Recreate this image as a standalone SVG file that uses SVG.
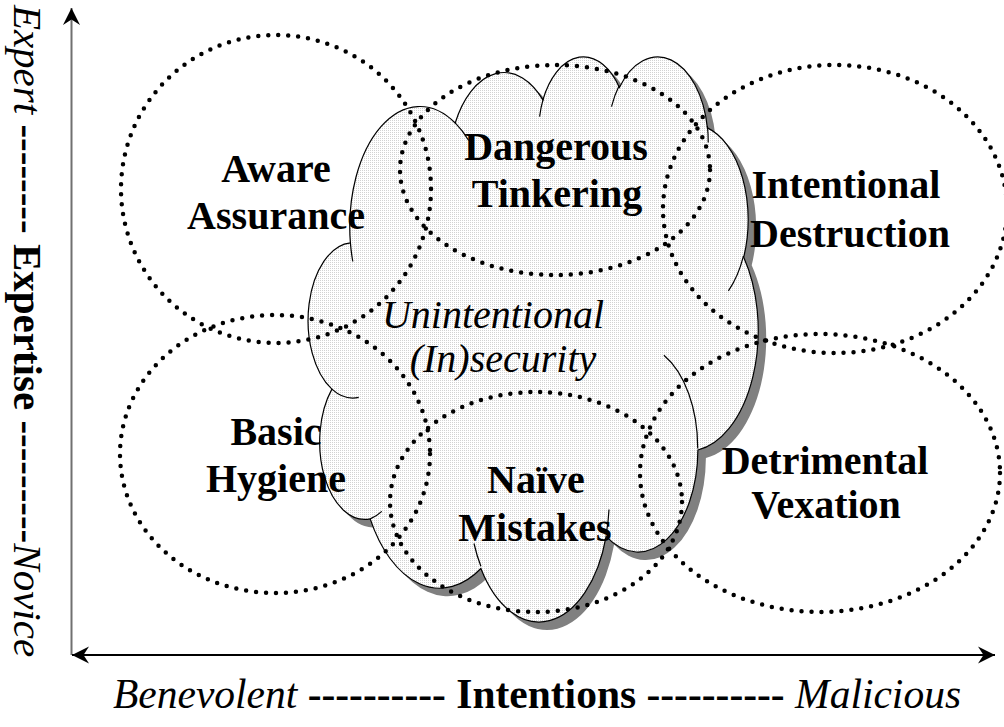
<svg xmlns="http://www.w3.org/2000/svg" xmlns:xlink="http://www.w3.org/1999/xlink" width="1004" height="727" viewBox="0 0 1004 727">
  <style>
    .zone { fill: none; stroke: #000; stroke-width: 4.5; stroke-linecap: round; stroke-dasharray: 0 10; }
    .lbl { font-family: "Liberation Serif", "Times New Roman", serif; font-weight: bold; font-size: 40px; text-anchor: middle; fill: #000; }
    .core { font-family: "Liberation Serif", "Times New Roman", serif; font-style: italic; font-size: 40px; text-anchor: middle; fill: #000; }
    .axis { font-family: "Liberation Serif", "Times New Roman", serif; fill: #000; text-anchor: middle; }
    .it { font-style: italic; }
    .bd { font-weight: bold; }
    .outline { stroke: #000; stroke-width: 1.2; }
  </style>
  <defs>
    <!-- fine dot screen used as the cloud fill -->
    <pattern id="screen" width="2" height="2" patternUnits="userSpaceOnUse">
      <rect width="2" height="2" fill="#fff"/>
      <rect width="1" height="1" fill="#d2d2d2"/>
    </pattern>
    <marker id="head" viewBox="0 0 18 18" refX="17" refY="9" markerWidth="18" markerHeight="18" markerUnits="userSpaceOnUse" orient="auto-start-reverse">
      <path d="M0,0.5 L17,9 L0,17.5 L5.5,9 Z" fill="#000"/>
    </marker>
    <!-- eleven-lobed cloud outline -->
    <path id="cloudShape" d="M350.4,242.9 A70.03,120.19 0 0 1 455.2,123.0 A55.31,95.04 0 0 1 542.9,99.9 A45.27,77.75 0 0 1 619.4,87.4 A50.37,86.25 0 0 1 707.4,127.9 A55.31,95.12 0 0 1 743.7,257.2 A70.26,120.59 0 0 1 697.9,450.0 A59.99,102.89 0 0 1 606.1,536.4 A70.02,120.52 0 0 1 480.9,568.5 A80.06,137.89 0 0 1 370.2,518.9 A45.21,77.4 0 0 1 331.9,389.1 A45.06,77.75 0 0 1 350.4,242.9 Z"/>
  </defs>

  <rect width="1004" height="727" fill="#fff"/>

  <!-- axes -->
  <g id="connectors">
    <line x1="71.5" y1="655" x2="71.5" y2="8" stroke="#707070" stroke-width="2" marker-end="url(#head)"/>
    <line x1="72" y1="655" x2="995" y2="655" stroke="#000" stroke-width="2" marker-start="url(#head)" marker-end="url(#head)"/>
  </g>

  <!-- axis titles -->
  <g id="axis-expertise">
    <text class="axis" font-size="41" transform="translate(14,331) rotate(90)"><tspan class="it">Expert</tspan><tspan class="bd"> -------- Expertise ---------</tspan><tspan class="it">Novice</tspan></text>
  </g>
  <g id="axis-intentions">
    <text class="axis" font-size="41.5" x="537" y="708"><tspan class="it">Benevolent</tspan><tspan class="bd"> ---------- Intentions ---------- </tspan><tspan class="it">Malicious</tspan></text>
  </g>

  <!-- central cloud -->
  <g id="unintentional-insecurity">
    <use xlink:href="#cloudShape" transform="translate(8,8)" fill="#808080"/>
    <use xlink:href="#cloudShape" fill="url(#screen)" class="outline"/>
    <path class="outline" fill="none" d="M358.7,397.4 A45.06,77.75 0 0 1 331.9,389.1 M381.8,511.4 A45.21,77.4 0 0 1 370.2,518.9 M480.9,566.3 A70.02,120.52 0 0 1 474.0,543.5 M609.0,509.5 A70.02,120.52 0 0 1 606.2,534.5 M663.9,355.2 A59.99,102.89 0 0 1 697.7,448.5 M743.5,255.8 A55.31,95.12 0 0 1 728.4,290.8 M707.4,126.0 A50.37,86.25 0 0 1 708.2,142.5 M611.5,106.7 A50.37,86.25 0 0 1 619.2,85.6 M539.6,116.7 A45.27,77.75 0 0 1 543.3,98.6 M455.2,122.9 A70.03,120.19 0 0 1 468.7,140.5 M352.8,261.5 A70.03,120.19 0 0 1 350.4,242.9"/>
    <text class="core" x="493" y="328">Unintentional</text>
    <text class="core" x="503" y="372">(In)security</text>
  </g>

  <g id="aware-assurance">
    <ellipse class="zone" cx="276" cy="189" rx="155" ry="154"/>
    <text class="lbl" x="276" y="182">Aware</text>
    <text class="lbl" x="276" y="229">Assurance</text>
  </g>

  <g id="basic-hygiene">
    <ellipse class="zone" cx="275" cy="454" rx="155" ry="139"/>
    <text class="lbl" x="276" y="445">Basic</text>
    <text class="lbl" x="276" y="492">Hygiene</text>
  </g>

  <g id="dangerous-tinkering">
    <ellipse class="zone" cx="555" cy="170" rx="155" ry="105"/>
    <text class="lbl" x="556" y="160">Dangerous</text>
    <text class="lbl" x="557" y="207">Tinkering</text>
  </g>

  <g id="naive-mistakes">
    <ellipse class="zone" cx="536" cy="502" rx="146" ry="110"/>
    <text class="lbl" x="536" y="493">Naïve</text>
    <text class="lbl" x="535" y="541">Mistakes</text>
  </g>

  <g id="intentional-destruction">
    <ellipse class="zone" cx="835" cy="209" rx="172" ry="144"/>
    <text class="lbl" x="846" y="198">Intentional</text>
    <text class="lbl" x="850" y="247">Destruction</text>
  </g>

  <g id="detrimental-vexation">
    <ellipse class="zone" cx="820" cy="473" rx="180" ry="139"/>
    <text class="lbl" x="825" y="474">Detrimental</text>
    <text class="lbl" x="826" y="518">Vexation</text>
  </g>
</svg>
